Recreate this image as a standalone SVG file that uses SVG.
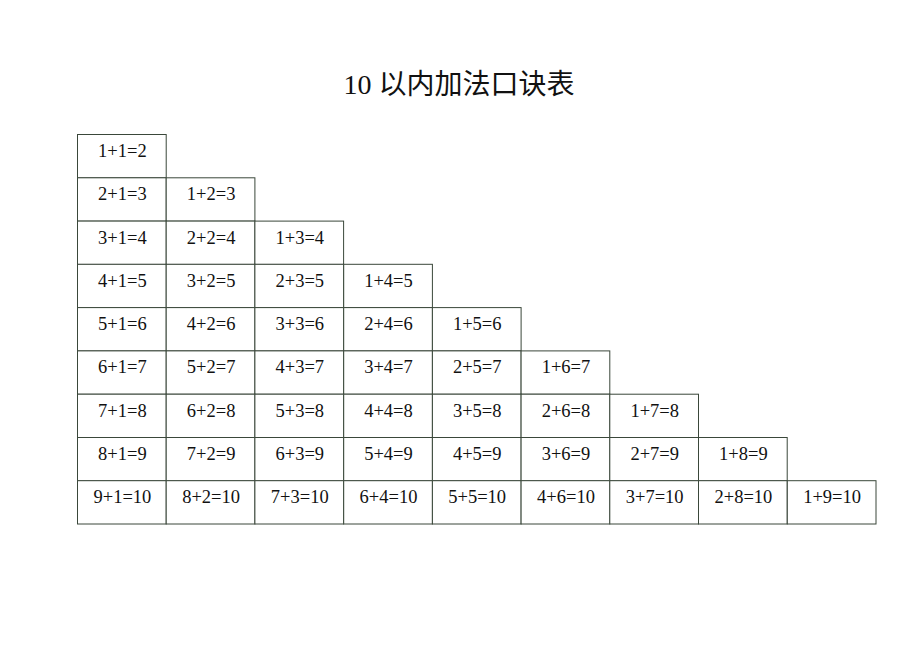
<svg xmlns="http://www.w3.org/2000/svg" width="920" height="651" viewBox="0 0 920 651">
<style>
.c rect{fill:#fff;stroke:#3a473a;stroke-width:1}
.c text{font-family:"Liberation Serif","Noto Sans CJK SC",serif;font-size:18.5px;fill:#111;text-anchor:middle}
.t{font-family:"Liberation Serif","Noto Sans CJK SC",serif;font-size:28px;fill:#111;text-anchor:middle}
</style>
<rect width="920" height="651" fill="#fff"/>
<text class="t" x="459" y="94">10 以内加法口诀表</text>
<g id="r1" class="c">
<g id="c1-1"><rect x="77.5" y="134.5" width="88.7" height="43.3"/><text x="122.4" y="157">1+1=2</text></g>
</g>
<g id="r2" class="c">
<g id="c2-1"><rect x="77.5" y="177.8" width="88.7" height="43.3"/><text x="122.4" y="200.3">2+1=3</text></g>
<g id="c2-2"><rect x="166.2" y="177.8" width="88.7" height="43.3"/><text x="211.1" y="200.3">1+2=3</text></g>
</g>
<g id="r3" class="c">
<g id="c3-1"><rect x="77.5" y="221.1" width="88.7" height="43.3"/><text x="122.4" y="243.6">3+1=4</text></g>
<g id="c3-2"><rect x="166.2" y="221.1" width="88.7" height="43.3"/><text x="211.1" y="243.6">2+2=4</text></g>
<g id="c3-3"><rect x="254.9" y="221.1" width="88.7" height="43.3"/><text x="299.8" y="243.6">1+3=4</text></g>
</g>
<g id="r4" class="c">
<g id="c4-1"><rect x="77.5" y="264.3" width="88.7" height="43.3"/><text x="122.4" y="286.8">4+1=5</text></g>
<g id="c4-2"><rect x="166.2" y="264.3" width="88.7" height="43.3"/><text x="211.1" y="286.8">3+2=5</text></g>
<g id="c4-3"><rect x="254.9" y="264.3" width="88.7" height="43.3"/><text x="299.8" y="286.8">2+3=5</text></g>
<g id="c4-4"><rect x="343.7" y="264.3" width="88.7" height="43.3"/><text x="388.5" y="286.8">1+4=5</text></g>
</g>
<g id="r5" class="c">
<g id="c5-1"><rect x="77.5" y="307.6" width="88.7" height="43.3"/><text x="122.4" y="330.1">5+1=6</text></g>
<g id="c5-2"><rect x="166.2" y="307.6" width="88.7" height="43.3"/><text x="211.1" y="330.1">4+2=6</text></g>
<g id="c5-3"><rect x="254.9" y="307.6" width="88.7" height="43.3"/><text x="299.8" y="330.1">3+3=6</text></g>
<g id="c5-4"><rect x="343.7" y="307.6" width="88.7" height="43.3"/><text x="388.5" y="330.1">2+4=6</text></g>
<g id="c5-5"><rect x="432.4" y="307.6" width="88.7" height="43.3"/><text x="477.2" y="330.1">1+5=6</text></g>
</g>
<g id="r6" class="c">
<g id="c6-1"><rect x="77.5" y="350.9" width="88.7" height="43.3"/><text x="122.4" y="373.4">6+1=7</text></g>
<g id="c6-2"><rect x="166.2" y="350.9" width="88.7" height="43.3"/><text x="211.1" y="373.4">5+2=7</text></g>
<g id="c6-3"><rect x="254.9" y="350.9" width="88.7" height="43.3"/><text x="299.8" y="373.4">4+3=7</text></g>
<g id="c6-4"><rect x="343.7" y="350.9" width="88.7" height="43.3"/><text x="388.5" y="373.4">3+4=7</text></g>
<g id="c6-5"><rect x="432.4" y="350.9" width="88.7" height="43.3"/><text x="477.2" y="373.4">2+5=7</text></g>
<g id="c6-6"><rect x="521.1" y="350.9" width="88.7" height="43.3"/><text x="566" y="373.4">1+6=7</text></g>
</g>
<g id="r7" class="c">
<g id="c7-1"><rect x="77.5" y="394.2" width="88.7" height="43.3"/><text x="122.4" y="416.7">7+1=8</text></g>
<g id="c7-2"><rect x="166.2" y="394.2" width="88.7" height="43.3"/><text x="211.1" y="416.7">6+2=8</text></g>
<g id="c7-3"><rect x="254.9" y="394.2" width="88.7" height="43.3"/><text x="299.8" y="416.7">5+3=8</text></g>
<g id="c7-4"><rect x="343.7" y="394.2" width="88.7" height="43.3"/><text x="388.5" y="416.7">4+4=8</text></g>
<g id="c7-5"><rect x="432.4" y="394.2" width="88.7" height="43.3"/><text x="477.2" y="416.7">3+5=8</text></g>
<g id="c7-6"><rect x="521.1" y="394.2" width="88.7" height="43.3"/><text x="566" y="416.7">2+6=8</text></g>
<g id="c7-7"><rect x="609.8" y="394.2" width="88.7" height="43.3"/><text x="654.7" y="416.7">1+7=8</text></g>
</g>
<g id="r8" class="c">
<g id="c8-1"><rect x="77.5" y="437.5" width="88.7" height="43.3"/><text x="122.4" y="460">8+1=9</text></g>
<g id="c8-2"><rect x="166.2" y="437.5" width="88.7" height="43.3"/><text x="211.1" y="460">7+2=9</text></g>
<g id="c8-3"><rect x="254.9" y="437.5" width="88.7" height="43.3"/><text x="299.8" y="460">6+3=9</text></g>
<g id="c8-4"><rect x="343.7" y="437.5" width="88.7" height="43.3"/><text x="388.5" y="460">5+4=9</text></g>
<g id="c8-5"><rect x="432.4" y="437.5" width="88.7" height="43.3"/><text x="477.2" y="460">4+5=9</text></g>
<g id="c8-6"><rect x="521.1" y="437.5" width="88.7" height="43.3"/><text x="566" y="460">3+6=9</text></g>
<g id="c8-7"><rect x="609.8" y="437.5" width="88.7" height="43.3"/><text x="654.7" y="460">2+7=9</text></g>
<g id="c8-8"><rect x="698.5" y="437.5" width="88.7" height="43.3"/><text x="743.4" y="460">1+8=9</text></g>
</g>
<g id="r9" class="c">
<g id="c9-1"><rect x="77.5" y="480.7" width="88.7" height="43.3"/><text x="122.4" y="503.2">9+1=10</text></g>
<g id="c9-2"><rect x="166.2" y="480.7" width="88.7" height="43.3"/><text x="211.1" y="503.2">8+2=10</text></g>
<g id="c9-3"><rect x="254.9" y="480.7" width="88.7" height="43.3"/><text x="299.8" y="503.2">7+3=10</text></g>
<g id="c9-4"><rect x="343.7" y="480.7" width="88.7" height="43.3"/><text x="388.5" y="503.2">6+4=10</text></g>
<g id="c9-5"><rect x="432.4" y="480.7" width="88.7" height="43.3"/><text x="477.2" y="503.2">5+5=10</text></g>
<g id="c9-6"><rect x="521.1" y="480.7" width="88.7" height="43.3"/><text x="566" y="503.2">4+6=10</text></g>
<g id="c9-7"><rect x="609.8" y="480.7" width="88.7" height="43.3"/><text x="654.7" y="503.2">3+7=10</text></g>
<g id="c9-8"><rect x="698.5" y="480.7" width="88.7" height="43.3"/><text x="743.4" y="503.2">2+8=10</text></g>
<g id="c9-9"><rect x="787.3" y="480.7" width="88.7" height="43.3"/><text x="832.1" y="503.2">1+9=10</text></g>
</g>
</svg>
